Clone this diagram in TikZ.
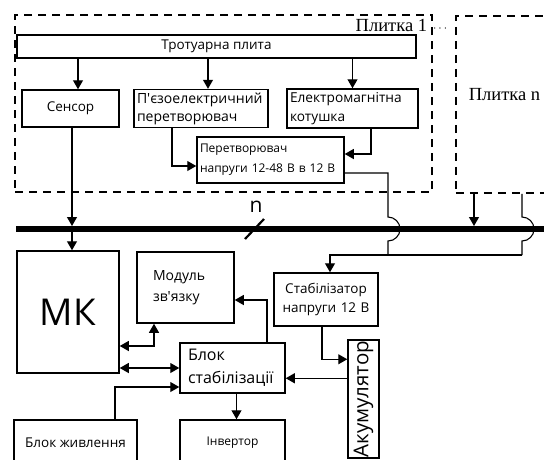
\documentclass[tikz,border=0pt]{standalone}
\usepackage{fontspec}
\setmainfont{Open Sans}
\newfontfamily\plitkafont{Liberation Serif}
\usepackage{graphicx}
\usetikzlibrary{arrows.meta}

\begin{document}
\begin{tikzpicture}[x=1pt,y=1pt,->,>={Triangle[length=9pt,width=10pt]},line width=1.1pt,
    box/.style={draw,line width=1.5pt,inner sep=3pt},
    plate/.style={draw,dash pattern=on 8pt off 6pt,line width=1.8pt,inner sep=0pt},
    bus/.style={-,line width=6pt}]

  \useasboundingbox (0,0) rectangle (544,-459);

  \node[plate,minimum width=417pt,minimum height=177pt] (plate1) at (223.5,-103.5) {};
  \node[plate,minimum width=200pt,minimum height=177pt,anchor=north west] (platen) at (455,-15) {};
  \node[anchor=base east,font=\plitkafont\fontsize{18.5}{18.5}\selectfont] (lbl1) at (451,-31) {Плитка 1\hspace{6pt}{\fontsize{13}{13}\selectfont$\cdots$}};
  \node[anchor=base west,font=\plitkafont\fontsize{18.5}{18.5}\selectfont] (lbln) at (465,-100) {Плитка n};

  \node[box,minimum width=399pt,minimum height=23pt,font=\fontsize{13.5}{15}\selectfont] (trot) at (216.5,-46.5) {Тротуарна плита};
  \node[box,minimum width=97pt,minimum height=37pt,font=\fontsize{13.5}{15}\selectfont] (sensor) at (70.5,-108.5) {Сенсор};
  \node[box,text width=128pt,minimum height=37pt,align=left,font=\fontsize{14}{18}\selectfont] (piezo) at (201,-108.5) {П\textquotesingle єзоелектричний\\перетворювач};
  \node[box,text width=125pt,minimum height=39pt,align=left,font=\fontsize{13.7}{19}\selectfont] (elektro) at (352.5,-108.5) {Електромагнітна\\котушка};
  \node[box,text width=141pt,minimum height=46pt,align=left,font=\fontsize{12}{20}\selectfont] (conv) at (270.5,-160) {Перетворювач\\напруги 12-48 В в 12 В};

  \node[box,minimum width=102pt,minimum height=122pt,font=\fontsize{37}{40}\selectfont] (mk) at (68,-312) {МК};
  \node[box,inner xsep=16pt,text width=65pt,minimum height=71pt,align=left,font=\fontsize{14}{21}\selectfont] (modul) at (185.5,-287.5) {Модуль\\зв\textquotesingle язку};
  \node[box,inner xsep=8pt,text width=89pt,minimum height=50pt,align=left,font=\fontsize{16}{23}\selectfont] (stab) at (232.5,-368) {Блок\\стабілізації};
  \node[box,text width=98pt,minimum height=53pt,align=center,font=\fontsize{13.5}{19}\selectfont] (sv) at (326,-299.5) {Стабілізатор\\напруги 12 В};
  \node[box,minimum width=31pt,minimum height=118pt,inner sep=0pt,font=\fontsize{20.5}{20.5}\selectfont] (akum) at (363.5,-399) {\rotatebox{90}{Акумулятор}};
  \node[box,minimum width=123pt,minimum height=46pt,font=\fontsize{13.5}{15}\selectfont] (power) at (75.5,-443) {Блок живлення};
  \node[box,minimum width=105pt,minimum height=46pt,font=\fontsize{12}{13}\selectfont] (inv) at (232.5,-443) {Інвертор};

  % bus
  \coordinate (busL) at (16,-229);
  \coordinate (busR) at (544,-229);
  \draw[bus] (busL) -- (busR);
  \node[font=\fontsize{21}{21}\selectfont] (nlbl) at (256,-207) {n};
  \draw[-,line width=2.2pt] (245,-239) -- (264,-219);

  % tile
  \coordinate (s1) at ([xshift=7.5pt]sensor.north);
  \coordinate (p0) at ([xshift=7pt]piezo.north);
  \draw (s1 |- trot.south) -- (s1);
  \draw (p0 |- trot.south) -- (p0);
  \draw (elektro.north |- trot.south) -- (elektro.north);
  \coordinate (p1) at ([xshift=-29pt]piezo.south);
  \coordinate (c1) at ([yshift=-6pt]conv.west);
  \draw (p1) |- (c1);
  \coordinate (e1) at ([xshift=18.5pt]elektro.south);
  \coordinate (c2) at ([yshift=6pt]conv.east);
  \draw (e1) |- (c2);

  % to the bus
  \coordinate (s2) at ([xshift=1.5pt]sensor.south);
  \draw[shorten >=3pt] (s2) -- (s2 |- busL);
  \draw[shorten <=3pt] (s2 |- busL) -- (s2 |- mk.north);
  \coordinate (pn) at ([xshift=19pt]platen.south west);
  \draw[shorten >=3pt] (pn) -- (pn |- busL);

  % over the bus
  \coordinate (c3) at ([yshift=-13pt]conv.east);
  \coordinate (hop1) at (388,-217);
  \coordinate (hop2) at (522,-217);
  \coordinate (j1) at (388,-255);
  \coordinate (j2) at (522,-255);
  \draw[-] (c3) -| (hop1) arc[start angle=90,end angle=-90,radius=12pt] -- (j1);
  \draw[-] (hop2 |- platen.south) -- (hop2) arc[start angle=90,end angle=-90,radius=12pt] -- (j2);
  \coordinate (v1) at ([xshift=4pt]sv.north);
  \draw (j2) -- (j1) -| (v1);

  % lower part
  \coordinate (b1) at ([xshift=34.5pt]stab.north);
  \coordinate (m1) at ([yshift=-12.5pt]modul.east);
  \draw (b1) |- (m1);
  \coordinate (k1) at ([yshift=-34pt]mk.east);
  \coordinate (m2) at ([xshift=-31.5pt]modul.south);
  \draw[<->] (k1) -| (m2);
  \draw[<->] (mk.east |- stab.west) -- (stab.west);
  \coordinate (w1) at ([xshift=39.5pt]power.north);
  \coordinate (b2) at ([yshift=-19pt]stab.west);
  \draw (w1) |- (b2);
  \coordinate (b3) at ([xshift=4pt]stab.south);
  \draw (b3) -- (b3 |- inv.north);
  \coordinate (v2) at ([xshift=-4pt]sv.south);
  \coordinate (a1) at ([yshift=-20pt]akum.north west);
  \draw (v2) |- (a1);
  \coordinate (a2) at ([yshift=-39pt]akum.north west);
  \draw (a2) -- (a2 -| stab.east);

\end{tikzpicture}
\end{document}
